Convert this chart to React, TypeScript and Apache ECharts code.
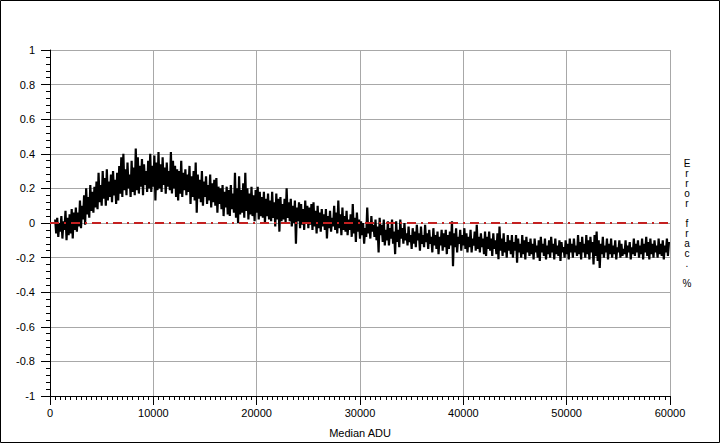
import React, { useEffect, useRef } from "react";
import * as echarts from "echarts";

// Median ADU sample positions: first sample and spacing
const ADU_START = 500;
const ADU_STEP = 100;

// Error fraction (%), one value per sample (500 .. 59900 ADU)
const errorFrac: number[] = [
  0.02, -0.06, 0.03, -0.08, 0.00, -0.05, 0.04, -0.09, 0.01, -0.04, 0.07, -0.10, 0.03, -0.07, 0.05, -0.06, 0.08, -0.09, 0.06, -0.04,
  0.09, -0.05, 0.06, -0.02, 0.13, -0.03, 0.10, 0.02, 0.16, -0.01, 0.20, 0.05, 0.15, 0.03, 0.22, 0.07, 0.18, 0.06, 0.21, 0.09,
  0.24, 0.08, 0.29, 0.12, 0.22, 0.10, 0.30, 0.14, 0.26, 0.10, 0.31, 0.13, 0.24, 0.15, 0.28, 0.12, 0.30, 0.16, 0.25, 0.11,
  0.29, 0.13, 0.33, 0.17, 0.38, 0.15, 0.40, 0.19, 0.31, 0.16, 0.35, 0.20, 0.28, 0.15, 0.36, 0.18, 0.32, 0.16, 0.43, 0.19,
  0.38, 0.17, 0.33, 0.21, 0.37, 0.16, 0.34, 0.22, 0.30, 0.18, 0.36, 0.20, 0.40, 0.18, 0.33, 0.21, 0.39, 0.13, 0.35, 0.19,
  0.41, 0.20, 0.34, 0.18, 0.38, 0.22, 0.32, 0.17, 0.35, 0.21, 0.30, 0.19, 0.41, 0.17, 0.36, 0.20, 0.33, 0.15, 0.31, 0.13,
  0.30, 0.17, 0.36, 0.15, 0.29, 0.19, 0.31, 0.16, 0.28, 0.18, 0.33, 0.11, 0.27, 0.15, 0.30, 0.13, 0.35, 0.06, 0.28, 0.14,
  0.25, 0.12, 0.30, 0.10, 0.24, 0.15, 0.27, 0.11, 0.22, 0.13, 0.28, 0.09, 0.23, 0.12, 0.25, 0.10, 0.26, 0.06, 0.21, 0.11,
  0.20, 0.08, 0.22, 0.04, 0.18, 0.09, 0.21, 0.05, 0.19, 0.04, 0.22, 0.08, 0.17, 0.06, 0.29, 0.03, 0.20, 0.00, 0.27, 0.05,
  0.19, 0.06, 0.23, 0.03, 0.29, 0.07, 0.20, 0.02, 0.17, 0.05, 0.21, 0.04, 0.16, 0.01, 0.19, 0.06, 0.21, 0.02, 0.18, 0.04,
  0.15, 0.03, 0.18, 0.00, 0.14, 0.04, 0.17, 0.02, 0.13, 0.01, 0.18, 0.03, 0.12, -0.02, 0.17, 0.02, 0.14, -0.05, 0.15, 0.01,
  0.11, 0.02, 0.14, 0.00, 0.20, 0.03, 0.12, 0.01, 0.14, -0.02, 0.10, 0.00, 0.13, -0.12, 0.09, 0.01, 0.12, -0.03, 0.11, -0.01,
  0.08, -0.04, 0.13, 0.00, 0.10, -0.03, 0.09, -0.01, 0.11, -0.04, 0.12, -0.02, 0.07, -0.06, 0.10, -0.03, 0.06, -0.05, 0.08, -0.02,
  0.05, -0.04, 0.08, -0.09, 0.04, -0.03, 0.07, -0.05, 0.03, -0.02, 0.10, -0.04, 0.06, -0.06, 0.13, -0.03, 0.05, -0.07, 0.09, -0.04,
  0.04, -0.05, 0.07, -0.07, 0.02, -0.04, 0.05, -0.08, 0.11, -0.06, 0.03, -0.11, 0.06, -0.05, 0.02, -0.09, 0.01, -0.07, 0.00, -0.12,
  -0.03, -0.08, 0.09, -0.06, 0.00, -0.09, 0.04, -0.05, -0.01, -0.08, 0.02, -0.10, -0.02, -0.17, 0.03, -0.07, -0.01, -0.11, 0.02, -0.13,
  -0.04, -0.10, 0.01, -0.13, -0.03, -0.09, 0.02, -0.12, -0.05, -0.18, 0.01, -0.11, -0.04, -0.14, 0.02, -0.09, -0.03, -0.12, 0.00, -0.10,
  -0.06, -0.13, -0.02, -0.11, -0.07, -0.15, -0.03, -0.12, -0.05, -0.14, -0.01, -0.10, -0.06, -0.16, -0.02, -0.12, -0.07, -0.14, -0.01, -0.11,
  -0.06, -0.15, -0.04, -0.12, -0.08, -0.17, -0.03, -0.13, -0.07, -0.15, -0.05, -0.18, -0.08, -0.13, -0.04, -0.16, -0.06, -0.14, -0.04, -0.18,
  -0.07, -0.15, -0.05, -0.13, 0.01, -0.25, -0.06, -0.14, -0.03, -0.17, -0.08, -0.12, -0.04, -0.16, -0.07, -0.13, -0.03, -0.15, -0.06, -0.17,
  -0.08, -0.14, -0.04, -0.17, -0.09, -0.13, -0.05, -0.16, -0.01, -0.15, -0.08, -0.17, -0.06, -0.14, -0.09, -0.18, -0.05, -0.19, -0.08, -0.15,
  -0.05, -0.16, -0.09, -0.19, -0.06, -0.15, -0.10, -0.18, -0.06, -0.21, -0.02, -0.16, -0.09, -0.19, -0.06, -0.17, -0.11, -0.20, -0.07, -0.16,
  -0.10, -0.18, -0.07, -0.20, -0.11, -0.16, -0.07, -0.23, -0.09, -0.17, -0.12, -0.20, -0.07, -0.18, -0.10, -0.21, -0.08, -0.17, -0.11, -0.19,
  -0.09, -0.18, -0.12, -0.21, -0.09, -0.17, -0.13, -0.20, -0.10, -0.22, -0.08, -0.17, -0.12, -0.19, -0.09, -0.21, -0.13, -0.18, -0.10, -0.20,
  -0.08, -0.17, -0.12, -0.21, -0.09, -0.18, -0.13, -0.19, -0.10, -0.22, -0.11, -0.17, -0.14, -0.20, -0.10, -0.18, -0.12, -0.21, -0.09, -0.17,
  -0.12, -0.20, -0.09, -0.17, -0.13, -0.19, -0.07, -0.18, -0.11, -0.21, -0.08, -0.17, -0.12, -0.20, -0.07, -0.18, -0.10, -0.21, -0.08, -0.17,
  -0.11, -0.24, -0.07, -0.19, -0.05, -0.22, -0.10, -0.26, -0.12, -0.18, -0.08, -0.20, -0.13, -0.17, -0.09, -0.21, -0.12, -0.18, -0.09, -0.20,
  -0.13, -0.18, -0.10, -0.21, -0.14, -0.17, -0.10, -0.20, -0.12, -0.19, -0.15, -0.18, -0.10, -0.20, -0.13, -0.17, -0.11, -0.21, -0.14, -0.18,
  -0.09, -0.19, -0.12, -0.17, -0.10, -0.20, -0.13, -0.18, -0.09, -0.21, -0.12, -0.17, -0.08, -0.19, -0.11, -0.21, -0.09, -0.18, -0.12, -0.20,
  -0.10, -0.17, -0.13, -0.20, -0.09, -0.18, -0.12, -0.19, -0.10, -0.21, -0.13, -0.17, -0.09, -0.19, -0.11,
];

// Reference (zero) line end points
const zeroLineX: number[] = [0, 60000];
const zeroLineY: number[] = [0, 0];

// Axis ranges
const X_MIN = 0;
const X_MAX = 60000;
const X_INTERVAL = 10000;
const Y_MIN = -1;
const Y_MAX = 1;
const Y_INTERVAL = 0.2;

const X_TITLE = "Median ADU";
const Y_TITLE = "Error frac. %";

const FONT = "'Liberation Sans', Arial, sans-serif";

export default function App() {
  const ref = useRef<HTMLDivElement>(null);

  useEffect(() => {
    if (!ref.current) return;
    const chart = echarts.init(ref.current, undefined, { renderer: "svg" });

    const mainData = errorFrac.map((v, i) => [ADU_START + i * ADU_STEP, v]);
    const zeroData = zeroLineX.map((x, i) => [x, zeroLineY[i]]);

    chart.setOption({
      animation: false,
      backgroundColor: "#ffffff",
      grid: { left: 50, right: 50, top: 50, bottom: 46, containLabel: false },
      textStyle: { fontFamily: FONT },
      xAxis: {
        type: "value",
        min: X_MIN,
        max: X_MAX,
        interval: X_INTERVAL,
        name: X_TITLE,
        nameLocation: "middle",
        nameGap: 31,
        nameTextStyle: { color: "#000", fontSize: 11, fontFamily: FONT },
        axisLine: { show: true, onZero: false, lineStyle: { color: "#000", width: 1 } },
        axisTick: { show: true, length: 9, lineStyle: { color: "#000" } },
        minorTick: { show: true, splitNumber: 20, length: 4, lineStyle: { color: "#000" } },
        axisLabel: {
          color: "#000",
          fontSize: 11,
          fontFamily: FONT,
          margin: 11,
          formatter: (v: number) => String(v),
        },
        splitLine: { show: true, lineStyle: { color: "#a8a8a8", width: 1 } },
      },
      yAxis: {
        type: "value",
        min: Y_MIN,
        max: Y_MAX,
        interval: Y_INTERVAL,
        axisLine: { show: true, onZero: false, lineStyle: { color: "#000", width: 1 } },
        axisTick: { show: true, length: 9, lineStyle: { color: "#000" } },
        minorTick: { show: true, splitNumber: 5, length: 4, lineStyle: { color: "#000" } },
        axisLabel: {
          color: "#000",
          fontSize: 11,
          fontFamily: FONT,
          margin: 15,
          formatter: (v: number) => String(Math.round(v * 10) / 10),
        },
        splitLine: { show: true, lineStyle: { color: "#a8a8a8", width: 1 } },
      },
      graphic: [
        {
          type: "rect",
          shape: { x: 0.5, y: 0.5, width: 719, height: 442 },
          style: { fill: "none", stroke: "#000", lineWidth: 1 },
          silent: true,
        },
        {
          type: "text",
          x: 687,
          y: 223,
          style: {
            text: Y_TITLE.split("").join("\n"),
            fill: "#000000",
            fontSize: 10,
            fontFamily: FONT,
            lineHeight: 10,
            align: "center",
            verticalAlign: "middle",
          },
        },
      ],
      series: [
        {
          type: "line",
          data: mainData,
          symbol: "none",
          lineStyle: { color: "#000", width: 2.2 },
          z: 2,
        },
        {
          type: "line",
          data: zeroData,
          symbol: "none",
          lineStyle: { color: "#c42020", width: 2, type: [9, 5, 2, 5] },
          z: 3,
        },
      ],
    });

    return () => chart.dispose();
  }, []);

  return (
    <div
      ref={ref}
      style={{ position: "absolute", left: 0, top: 0, width: 720, height: 443 }}
    />
  );
}
